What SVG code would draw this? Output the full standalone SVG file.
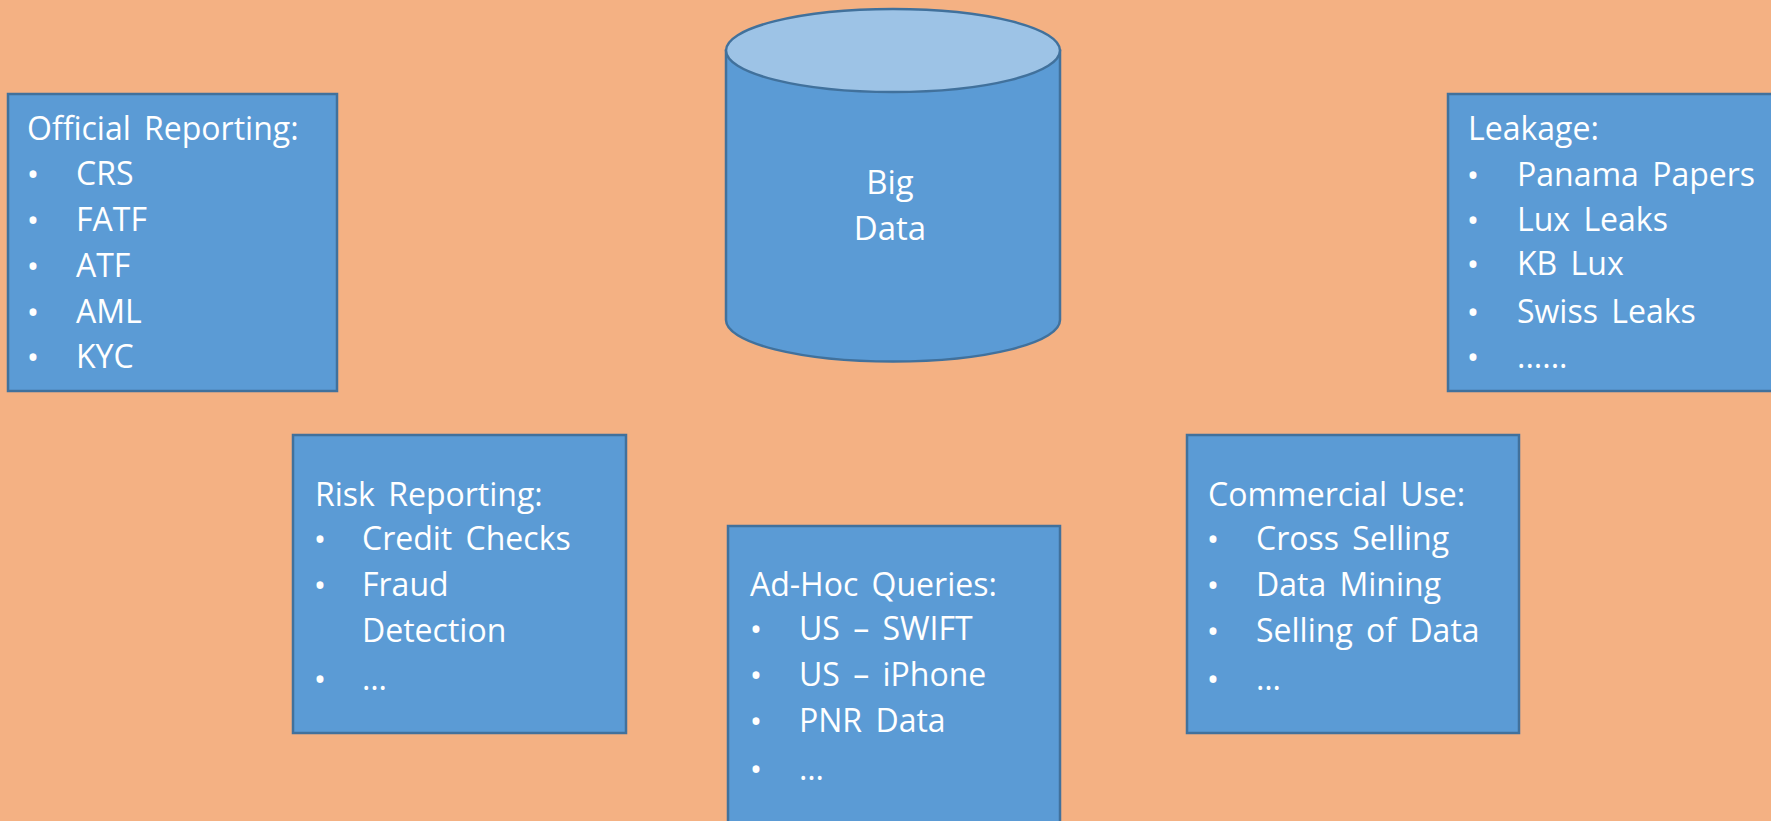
<svg xmlns="http://www.w3.org/2000/svg" width="1771" height="821" viewBox="0 0 1771 821">
<style>
.box{fill:#5B9BD5;stroke:#41719C;stroke-width:2.5}
.t{font-family:"Open Sans","Noto Sans",sans-serif;font-size:32px;fill:#FFFFFF;word-spacing:5px}
.b{text-anchor:middle;font-size:33px}
.c{text-anchor:middle;font-size:33px}
</style>
<rect x="0" y="0" width="1771" height="821" fill="#F4B183"/>
<g id="connectors"></g>
<g id="bigdata">
<path class="box" d="M726,50.5 V320 A167,41.5 0 0 0 1060,320 V50.5 Z"/>
<ellipse cx="893" cy="50.5" rx="167" ry="41.5" fill="#9DC3E6" stroke="#41719C" stroke-width="2.5"/>
<text class="t c" x="890" y="194">Big</text>
<text class="t c" x="890" y="240">Data</text>
</g>
<g id="official">
<rect class="box" x="8" y="94" width="329" height="297"/>
<text class="t" x="27" y="140">Official Reporting:</text>
<text class="t b" x="33" y="186">•</text><text class="t" x="76" y="185">CRS</text>
<text class="t b" x="33" y="232">•</text><text class="t" x="76" y="231">FATF</text>
<text class="t b" x="33" y="278">•</text><text class="t" x="76" y="277">ATF</text>
<text class="t b" x="33" y="324">•</text><text class="t" x="76" y="323">AML</text>
<text class="t b" x="33" y="369">•</text><text class="t" x="76" y="368">KYC</text>
</g>
<g id="leakage">
<rect class="box" x="1448" y="94" width="340" height="297"/>
<text class="t" x="1468" y="140">Leakage:</text>
<text class="t b" x="1473" y="187">•</text><text class="t" x="1517" y="186">Panama Papers</text>
<text class="t b" x="1473" y="232">•</text><text class="t" x="1517" y="231">Lux Leaks</text>
<text class="t b" x="1473" y="276">•</text><text class="t" x="1517" y="275">KB Lux</text>
<text class="t b" x="1473" y="324">•</text><text class="t" x="1517" y="323">Swiss Leaks</text>
<text class="t b" x="1473" y="369">•</text><text class="t" x="1517" y="368">......</text>
</g>
<g id="risk">
<rect class="box" x="293" y="435" width="333" height="298"/>
<text class="t" x="315" y="506">Risk Reporting:</text>
<text class="t b" x="320" y="551">•</text><text class="t" x="362" y="550">Credit Checks</text>
<text class="t b" x="320" y="597">•</text><text class="t" x="362" y="596">Fraud</text>
<text class="t" x="362" y="642">Detection</text>
<text class="t b" x="320" y="691">•</text><text class="t" x="362" y="690">…</text>
</g>
<g id="adhoc">
<rect class="box" x="728" y="526" width="332" height="310"/>
<text class="t" x="750" y="596">Ad-Hoc Queries:</text>
<text class="t b" x="756" y="641">•</text><text class="t" x="799" y="640">US – SWIFT</text>
<text class="t b" x="756" y="687">•</text><text class="t" x="799" y="686">US – iPhone</text>
<text class="t b" x="756" y="733">•</text><text class="t" x="799" y="732">PNR Data</text>
<text class="t b" x="756" y="781">•</text><text class="t" x="799" y="780">…</text>
</g>
<g id="commercial">
<rect class="box" x="1187" y="435" width="332" height="298"/>
<text class="t" x="1208" y="506">Commercial Use:</text>
<text class="t b" x="1213" y="551">•</text><text class="t" x="1256" y="550">Cross Selling</text>
<text class="t b" x="1213" y="597">•</text><text class="t" x="1256" y="596">Data Mining</text>
<text class="t b" x="1213" y="643">•</text><text class="t" x="1256" y="642">Selling of Data</text>
<text class="t b" x="1213" y="691">•</text><text class="t" x="1256" y="690">…</text>
</g>
</svg>
